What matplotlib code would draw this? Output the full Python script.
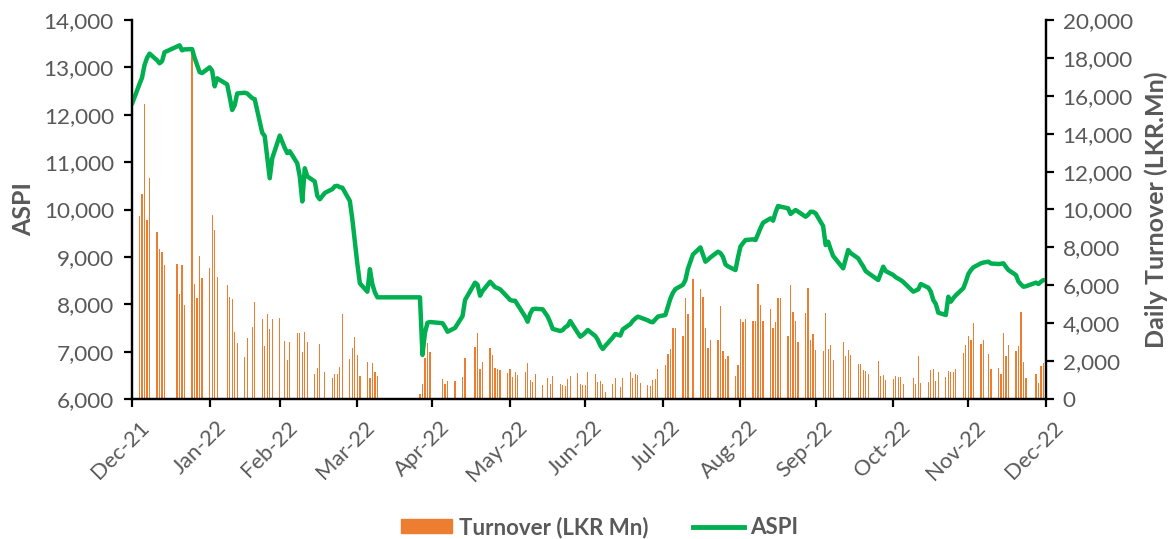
import pandas as pd
import matplotlib
matplotlib.use("Agg")
import matplotlib.pyplot as plt
import matplotlib.dates as mdates
import matplotlib.transforms as mtransforms
from matplotlib.ticker import MultipleLocator, FuncFormatter
from matplotlib.patches import Patch
from matplotlib.lines import Line2D

plt.rcParams['font.family'] = ['Lato', 'DejaVu Sans']

# --- data ---
# non-trading weekdays (holidays, curfew, market closure)
holidays = ["2022-01-14", "2022-01-17", "2022-02-04", "2022-02-16", "2022-03-01",
            "2022-03-17", "2022-05-02", "2022-05-03", "2022-05-10", "2022-05-11",
            "2022-05-16", "2022-06-14", "2022-07-13", "2022-08-11", "2022-10-10",
            "2022-10-24", "2022-11-07", "2022-12-07", "2022-12-26"]
closure = ("2022-04-11", "2022-04-22")

# daily turnover, LKR Mn
turnover_dec21 = [8200]
turnover_jan = [9650, 10800, 15570, 9450, 11640, 8810, 7900, 7760, 7050, 7110, 5540, 7070,
                4940, 18380, 6070, 5350, 7560, 6390, 6910]
turnover_feb = [9710, 8920, 6460, 6030, 5365, 5295, 3540, 2970, 2230, 3220, 3820, 5120,
                4200, 2800, 4500, 3690, 4200, 4270]
turnover_mar = [3045, 2058, 2990, 3500, 3467, 2480, 3553, 3025, 1303, 1636, 2902, 1409,
                1092, 1319, 1337, 1706, 4503, 2111, 2673, 3270, 2322]
turnover_apr = [1214, 1953, 1108, 1917, 1442, 1214, 264, 790, 2164, 2955, 2497]
turnover_may = [1040, 790, 950, 950, 1161, 2164, 2726, 3483, 1583, 1953, 2708, 2304,
                1618, 1600, 1530, 1372, 1583]
turnover_jun = [1178, 1407, 1284, 1442, 1882, 1003, 915, 1302, 739, 1091, 774, 1196,
                790, 721, 668, 1073, 1214, 1390, 790, 756, 756]
turnover_jul = [1407, 1302, 897, 950, 774, 369, 790, 1091, 616, 1091, 1407, 1091, 1319,
                1266, 827, 721, 668, 1003, 1038, 1583]
turnover_aug = [1794, 2375, 2656, 3764, 3729, 3325, 5347, 4485, 6332, 5822, 5400, 3747,
                2691, 3131, 3113, 4925, 2533, 2111, 2251, 1214, 1776, 4222]
turnover_sep = [4063, 4204, 4099, 4099, 6069, 4943, 4099, 4767, 3747, 4063, 5312, 5330,
                3325, 6033, 4591, 4099, 3008, 4538, 5857, 3113, 3430, 2568]
turnover_oct = [2515, 4520, 2622, 2850, 2058, 3008, 2269, 2568, 2322, 1865, 1829, 1513,
                1478, 1302, 2023, 1214, 1284, 1003, 1038]
turnover_nov = [1231, 1161, 1161, 774, 1091, 774, 2286, 827, 915, 1530, 1600, 950, 1407,
                1161, 1478, 1425, 1425, 1565, 2427, 2850, 3325]
turnover_dec22 = [3095, 3992, 2902, 3095, 2375, 1583, 1618, 1319, 3500, 2251, 2850, 2515,
                  2797, 4591, 1970, 1126, 1302, 862, 1741, 1882]

# ASPI close
aspi_dec21 = [12227]
aspi_jan = [12650, 12780, 13050, 13200, 13290, 13150, 13086, 13130, 13320, 13440, 13465,
            13360, 13380, 13385, 13200, 13050, 12900, 12880, 13000]
aspi_feb = [12930, 12600, 12770, 12640, 12380, 12100, 12200, 12450, 12465, 12450, 12350,
            12330, 11620, 11550, 11100, 10660, 11080, 11560]
aspi_mar = [11300, 11190, 11230, 10975, 10700, 10170, 10870, 10700, 10590, 10290, 10215,
            10350, 10430, 10490, 10500, 10470, 10460, 10180, 9790, 9320, 8850]
aspi_apr = [8441, 8265, 8740, 8420, 8250, 8146, 8146, 6930, 7400, 7610, 7625]
aspi_may = [7600, 7520, 7420, 7500, 7750, 8090, 8456, 8410, 8180, 8280, 8476, 8420, 8360,
            8340, 8315, 8150, 8090]
aspi_jun = [8075, 8075, 7990, 7740, 7631, 7800, 7895, 7905, 7893, 7740, 7620, 7480, 7435,
            7456, 7515, 7545, 7646, 7400, 7315, 7350, 7400]
aspi_jul = [7456, 7330, 7250, 7130, 7055, 7120, 7300, 7372, 7340, 7470, 7580, 7650, 7700,
            7737, 7720, 7660, 7630, 7620, 7680, 7740]
aspi_aug = [7773, 7950, 8120, 8240, 8320, 8410, 8511, 8750, 9050, 9200, 9050, 8898, 8940,
            8990, 9109, 9080, 9000, 8840, 8800, 8722, 8990, 9220]
aspi_sep = [9290, 9356, 9370, 9356, 9480, 9610, 9720, 9814, 9764, 9940, 10074, 10060,
            10025, 9905, 9950, 9989, 9955, 9847, 9890, 9953, 9950, 9919]
aspi_oct = [9650, 9250, 9320, 9160, 9018, 8758, 8950, 9145, 9080, 8969, 8880, 8800, 8700,
            8660, 8511, 8650, 8793, 8700, 8617]
aspi_nov = [8570, 8540, 8511, 8470, 8265, 8290, 8315, 8427, 8350, 8265, 8089, 8005, 7821,
            7773, 8159, 8054, 8130, 8190, 8340, 8480, 8640]
aspi_dec22 = [8720, 8779, 8864, 8880, 8898, 8860, 8849, 8855, 8864, 8790, 8722, 8617, 8480,
              8420, 8370, 8380, 8456, 8427, 8476, 8511]

turnover = (turnover_dec21 + turnover_jan + turnover_feb + turnover_mar + turnover_apr
            + turnover_may + turnover_jun + turnover_jul + turnover_aug + turnover_sep
            + turnover_oct + turnover_nov + turnover_dec22)
aspi = (aspi_dec21 + aspi_jan + aspi_feb + aspi_mar + aspi_apr + aspi_may + aspi_jun
        + aspi_jul + aspi_aug + aspi_sep + aspi_oct + aspi_nov + aspi_dec22)

dates = pd.bdate_range("2021-12-31", "2022-12-30")
off = pd.to_datetime(holidays).append(pd.bdate_range(*closure))
dates = dates[~dates.isin(off)]
assert len(dates) == len(turnover) == len(aspi)

# --- plot ---
GREY = "#595959"
ORANGE = "#ED7D31"
GREEN = "#00B050"

fig = plt.figure(figsize=(11.76, 5.39), dpi=100)
ax1 = fig.add_axes([132 / 1176, 1 - 399 / 539, (1046 - 132) / 1176, 379 / 539])
ax2 = ax1.twinx()

ax2.bar(dates, turnover, width=0.5, color=ORANGE, linewidth=0)
ax1.plot(dates, aspi, color=GREEN, lw=3.2, solid_joinstyle="round", solid_capstyle="round")

ax1.set_zorder(ax2.get_zorder() + 1)
ax1.patch.set_visible(False)

ax1.set_ylim(6000, 14000)
ax2.set_ylim(0, 20000)
ax1.yaxis.set_major_locator(MultipleLocator(1000))
ax2.yaxis.set_major_locator(MultipleLocator(2000))
fmt = FuncFormatter(lambda v, p: f"{v:,.0f}")
ax1.yaxis.set_major_formatter(fmt)
ax2.yaxis.set_major_formatter(fmt)

ax1.set_xlim(pd.Timestamp("2021-12-31"), pd.Timestamp("2022-12-31"))
ax1.set_xticks(pd.date_range("2021-12-31", "2022-12-31", freq="ME"))
ax1.xaxis.set_major_formatter(mdates.DateFormatter("%b-%y"))

for ax in (ax1, ax2):
    ax.spines["top"].set_visible(False)
    for s in ax.spines.values():
        s.set_linewidth(1.6)
        s.set_color("black")
    ax.tick_params(direction="out", length=6, width=1.6, color="black",
                   labelcolor=GREY, labelsize=16.2)
ax1.tick_params(axis="y", pad=7)
ax2.tick_params(axis="y", pad=6)
ax1.tick_params(axis="x", pad=5, labelsize=15.8)

shift = mtransforms.ScaledTranslation(7 / 100, -3 / 100, fig.dpi_scale_trans)
for lbl in ax1.get_xticklabels():
    lbl.set_rotation(45)
    lbl.set_ha("right")
    lbl.set_va("top")
    lbl.set_rotation_mode("anchor")
    lbl.set_transform(lbl.get_transform() + shift)

ax1.set_ylabel("ASPI", fontsize=18, fontweight="bold", color=GREY, labelpad=6)
ax2.set_ylabel("Daily Turnover (LKR.Mn)", fontsize=18, fontweight="bold", color=GREY,
               labelpad=8)

handles = [Patch(color=ORANGE), Line2D([], [], color=GREEN, lw=3.5)]
fig.legend(handles, ["Turnover (LKR Mn)", "ASPI"], loc="center", bbox_to_anchor=(0.51, 0.022),
           ncol=2, frameon=False, handlelength=2.3, handleheight=0.6, handletextpad=0.3,
           columnspacing=2.0, prop={"size": 16, "weight": "bold"}, labelcolor=GREY)

fig.savefig("out.png", dpi=100)
